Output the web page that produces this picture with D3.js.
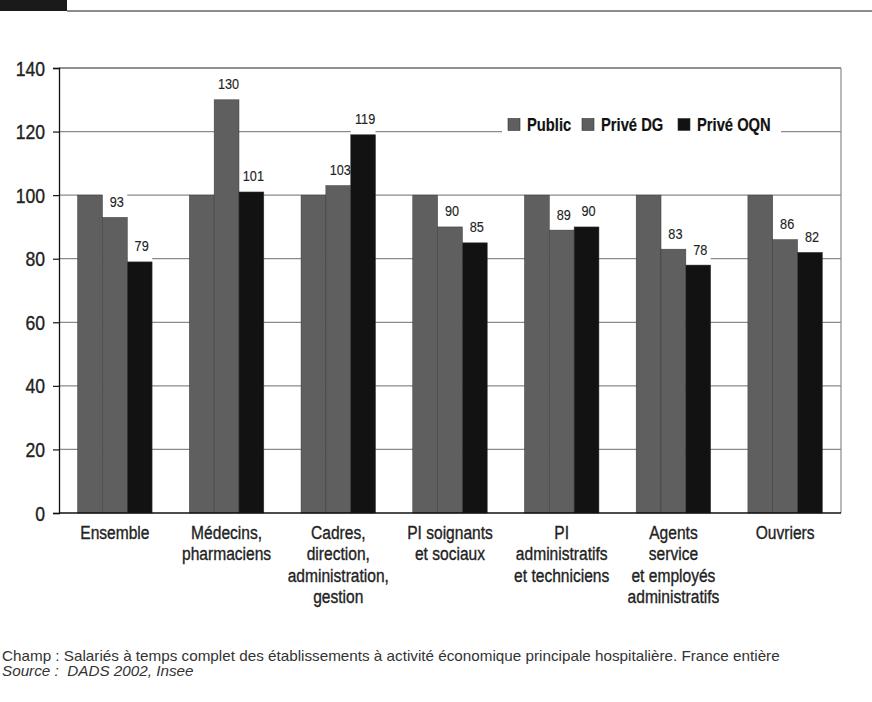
<!DOCTYPE html>
<html>
<head>
<meta charset="utf-8">
<script src="https://cdn.jsdelivr.net/npm/d3@7"></script>
<style>
  html, body { margin: 0; padding: 0; background: #fff; }
  svg { display: block; }
</style>
</head>
<body>
<div id="chart"></div>
<script>
// Salaires relatifs par catégorie socioprofessionnelle (base 100 = public)
const categories = [
  ["Ensemble"],
  ["Médecins,", "pharmaciens"],
  ["Cadres,", "direction,", "administration,", "gestion"],
  ["PI soignants", "et sociaux"],
  ["PI", "administratifs", "et techniciens"],
  ["Agents", "service", "et employés", "administratifs"],
  ["Ouvriers"]
];
const seriesNames = ["Public", "Privé DG", "Privé OQN"];
const publicValues = [100, 100, 100, 100, 100, 100, 100];
const priveDGValues = [93, 130, 103, 90, 89, 83, 86];
const priveOQNValues = [79, 101, 119, 85, 90, 78, 82];
const labelledSeries = ["Privé DG", "Privé OQN"];
const yTicks = [0, 20, 40, 60, 80, 100, 120, 140];
const champText = "Champ : Salariés à temps complet des établissements à activité économique principale hospitalière. France entière";
const sourceText = "Source :  DADS 2002, Insee";

const W = 872, H = 702;
const margin = { left: 59, right: 31, top: 68, bottom: 189 };
const sans = "'Liberation Sans', Arial, sans-serif";
const NARROW = 0.82; // horizontal squeeze giving a condensed face
const colors = { "Public": "#5f5f5f", "Privé DG": "#5f5f5f", "Privé OQN": "#121212" };

const seriesValues = { "Public": publicValues, "Privé DG": priveDGValues, "Privé OQN": priveOQNValues };
const keys = categories.map(c => c.join(" "));
const rows = keys.map((k, i) => ({
  key: k, lines: categories[i],
  values: seriesNames.map(s => ({ series: s, value: seriesValues[s][i] }))
}));

const svg = d3.select("#chart").append("svg").attr("width", W).attr("height", H);

// condensed text placed at (x, y), with a hairline stroke for a medium weight
function squeezed(sel, xf, yf, sx) {
  return sel.attr("x", 0).attr("y", 0)
    .attr("stroke", "#222").attr("stroke-width", 0.35)
    .attr("transform", (d, i) => `translate(${typeof xf === "function" ? xf(d, i) : xf},${typeof yf === "function" ? yf(d, i) : yf}) scale(${sx},1)`);
}

// header band
svg.append("rect").attr("x", 0).attr("y", 0).attr("width", 67).attr("height", 11).attr("fill", "#1a1a1a");
svg.append("line").attr("x1", 67).attr("x2", W).attr("y1", 11).attr("y2", 11)
  .attr("stroke", "#1a1a1a").attr("stroke-width", 1);

const x0 = d3.scaleBand().domain(keys).range([margin.left, W - margin.right])
  .paddingInner(1 / 3).paddingOuter(1 / 6);
const x1 = d3.scaleBand().domain(seriesNames).range([0, x0.bandwidth()]);
const y = d3.scaleLinear().domain([0, 140]).range([H - margin.bottom, margin.top]);

const plotR = W - margin.right;

// gridlines
svg.append("g").selectAll("line").data(yTicks.filter(t => t > 0 && t < 140)).join("line")
  .attr("x1", margin.left).attr("x2", plotR)
  .attr("y1", d => y(d)).attr("y2", d => y(d))
  .attr("stroke", "#8a8a8a").attr("stroke-width", 1.2);

// frame: top and right edges
svg.append("line").attr("x1", margin.left).attr("x2", plotR).attr("y1", y(140)).attr("y2", y(140))
  .attr("stroke", "#222").attr("stroke-width", 1.2);
svg.append("line").attr("x1", plotR).attr("x2", plotR).attr("y1", y(140)).attr("y2", y(0))
  .attr("stroke", "#8a8a8a").attr("stroke-width", 1.2);

// legend, set on a white panel over the 120 gridline
const legend = svg.append("g");
legend.append("rect").attr("x", 502).attr("y", 116).attr("width", 279).attr("height", 22).attr("fill", "#fff");
const legendX = [508, 582, 678];
seriesNames.forEach((s, i) => {
  legend.append("rect").attr("x", legendX[i]).attr("y", 118.5).attr("width", 12).attr("height", 12)
    .attr("fill", colors[s]).attr("stroke", "#333").attr("stroke-width", 0.6);
  squeezed(legend.append("text"), legendX[i] + 19, 131, NARROW)
    .attr("stroke-width", 0.2)
    .attr("font-family", sans).attr("font-size", 18).attr("font-weight", "bold")
    .attr("fill", "#111").text(s);
});

const groups = svg.append("g").selectAll("g").data(rows).join("g")
  .attr("transform", d => `translate(${x0(d.key)},0)`);

// white backing behind value labels
groups.selectAll("rect.bg").data(d => d.values.filter(v => labelledSeries.includes(v.series))).join("rect")
  .attr("class", "bg")
  .attr("x", d => x1(d.series)).attr("width", x1.bandwidth())
  .attr("y", d => y(d.value) - 28).attr("height", 28)
  .attr("fill", "#fff");

// bars
groups.selectAll("rect.bar").data(d => d.values).join("rect")
  .attr("class", "bar")
  .attr("x", d => x1(d.series)).attr("width", x1.bandwidth())
  .attr("y", d => y(d.value)).attr("height", d => y(0) - y(d.value))
  .attr("fill", d => colors[d.series])
  .attr("stroke", "#3a3a3a").attr("stroke-width", 0.5);

// value labels
squeezed(
  groups.selectAll("text.val").data(d => d.values.filter(v => labelledSeries.includes(v.series))).join("text")
    .attr("class", "val"),
  d => x1(d.series) + x1.bandwidth() / 2 + 2, d => y(d.value) - 10.5, NARROW)
  .attr("stroke-width", 0.15)
  .attr("text-anchor", "middle")
  .attr("font-family", sans).attr("font-size", 15.5).attr("fill", "#222")
  .text(d => d.value);

// y axis
const yAxis = svg.append("g").attr("transform", `translate(${margin.left},0)`)
  .call(d3.axisLeft(y).tickValues(yTicks).tickSize(6).tickPadding(8).tickFormat(d3.format("d")));
yAxis.select(".domain").attr("stroke", "#111").attr("stroke-width", 1.3);
yAxis.selectAll(".tick line").attr("stroke", "#111").attr("stroke-width", 1.2);
yAxis.selectAll(".tick text")
  .attr("x", 0).attr("dy", null).attr("y", 7)
  .attr("transform", "translate(-14,0) scale(0.88,1)")
  .attr("stroke", "#222").attr("stroke-width", 0.35)
  .attr("font-family", sans).attr("font-size", 20).attr("fill", "#222");

// x axis baseline
svg.append("line").attr("x1", margin.left).attr("x2", plotR).attr("y1", y(0)).attr("y2", y(0))
  .attr("stroke", "#111").attr("stroke-width", 1.3);

// category labels
const catLabels = squeezed(
  svg.append("g").selectAll("text").data(rows).join("text"),
  d => x0(d.key) + x0.bandwidth() / 2, 539, NARROW)
  .attr("text-anchor", "middle")
  .attr("font-family", sans).attr("font-size", 19).attr("fill", "#222");
catLabels.selectAll("tspan").data(d => d.lines).join("tspan")
  .attr("x", 0)
  .attr("dy", (d, i) => i === 0 ? 0 : 21.3)
  .text(d => d);

// notes
svg.append("text").attr("x", 0).attr("y", 0).attr("transform", "translate(2,661) scale(1.09,1)")
  .attr("font-family", sans).attr("font-size", 14).attr("fill", "#333")
  .text(champText);
svg.append("text").attr("x", 0).attr("y", 0).attr("transform", "translate(2,675.5) scale(1.09,1)")
  .attr("font-family", sans).attr("font-size", 14).attr("font-style", "italic")
  .attr("fill", "#333").style("white-space", "pre").text(sourceText);
</script>
</body>
</html>
